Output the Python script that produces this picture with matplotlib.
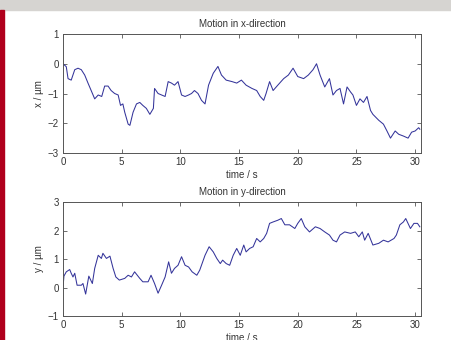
import matplotlib.pyplot as plt
from matplotlib.patches import Rectangle

# motion in x
tx = [0, 0.14, 0.28, 0.43, 0.7, 1.0, 1.28, 1.56, 1.85, 2.13, 2.4, 2.7, 3.0, 3.3,
      3.55, 3.84, 4.1, 4.4, 4.7, 4.9, 5.1, 5.26, 5.55, 5.7, 5.97, 6.26, 6.54, 6.8,
      7.1, 7.4, 7.7, 7.8, 8.1, 8.4, 8.7, 8.96, 9.24, 9.5, 9.8, 10.1, 10.4, 10.7,
      10.95, 11.2, 11.5, 11.8, 12.1, 12.4, 12.8, 13.2, 13.5, 13.9, 14.4, 14.8,
      15.2, 15.6, 16.1, 16.5, 16.8, 17.1, 17.3, 17.6, 17.9, 18.3, 18.8, 19.2,
      19.6, 20.0, 20.5, 20.9, 21.3, 21.6, 21.9, 22.3, 22.7, 23.0, 23.3, 23.6,
      23.9, 24.2, 24.5, 24.7, 25.0, 25.3, 25.6, 25.9, 26.2, 26.4, 26.9, 27.3,
      27.6, 27.9, 28.3, 28.6, 29.0, 29.4, 29.7, 30.0, 30.3, 30.4]
x = [0.0, -0.05, -0.1, -0.5, -0.55, -0.2, -0.15, -0.2, -0.38, -0.65, -0.9, -1.18,
     -1.05, -1.1, -0.75, -0.75, -0.9, -1.0, -1.05, -1.4, -1.35, -1.63, -2.03,
     -2.07, -1.63, -1.35, -1.3, -1.4, -1.5, -1.7, -1.5, -0.83, -1.0, -1.05, -1.1,
     -0.6, -0.65, -0.72, -0.6, -1.05, -1.1, -1.05, -1.0, -0.9, -1.0, -1.23,
     -1.35, -0.72, -0.32, -0.09, -0.38, -0.55, -0.6, -0.65, -0.55, -0.72, -0.83,
     -0.9, -1.1, -1.23, -1.0, -0.6, -0.9, -0.72, -0.5, -0.38, -0.15, -0.43, -0.5,
     -0.38, -0.2, 0.0, -0.38, -0.78, -0.5, -1.05, -0.9, -0.83, -1.35, -0.78,
     -0.95, -1.05, -1.4, -1.18, -1.3, -1.1, -1.57, -1.7, -1.9, -2.03, -2.26,
     -2.5, -2.26, -2.37, -2.43, -2.5, -2.3, -2.26, -2.15, -2.2]

# motion in y
ty = [0, 0.08, 0.28, 0.57, 0.7, 0.85, 1.0, 1.2, 1.56, 1.7, 1.93, 2.2, 2.5, 2.7,
      3.0, 3.27, 3.4, 3.7, 4.0, 4.27, 4.5, 4.8, 5.26, 5.55, 5.83, 6.1, 6.54, 6.8,
      7.25, 7.5, 7.8, 8.1, 8.4, 8.7, 9.0, 9.24, 9.5, 9.8, 10.1, 10.4, 10.7, 11.0,
      11.4, 11.65, 12.1, 12.45, 12.8, 13.1, 13.4, 13.6, 13.9, 14.2, 14.5, 14.8,
      15.1, 15.4, 15.6, 15.9, 16.2, 16.5, 16.8, 17.1, 17.35, 17.6, 17.9, 18.3,
      18.6, 18.9, 19.3, 19.75, 20.0, 20.3, 20.6, 21.0, 21.5, 21.9, 22.3, 22.7,
      23.0, 23.3, 23.6, 24.0, 24.5, 24.9, 25.2, 25.5, 25.7, 26.0, 26.4, 26.9,
      27.3, 27.7, 28.2, 28.4, 28.7, 29.0, 29.2, 29.6, 29.9, 30.2, 30.4]
y = [0.0, 0.4, 0.55, 0.63, 0.5, 0.37, 0.5, 0.08, 0.08, 0.14, -0.23, 0.4, 0.14,
     0.67, 1.13, 1.02, 1.2, 1.02, 1.1, 0.67, 0.37, 0.26, 0.32, 0.43, 0.37, 0.55,
     0.32, 0.2, 0.2, 0.43, 0.14, -0.2, 0.08, 0.37, 0.9, 0.5, 0.67, 0.78, 1.08,
     0.78, 0.72, 0.55, 0.43, 0.61, 1.13, 1.43, 1.25, 1.02, 0.84, 0.96, 0.84,
     0.78, 1.13, 1.37, 1.13, 1.49, 1.25, 1.37, 1.43, 1.72, 1.6, 1.72, 1.9, 2.25,
     2.3, 2.36, 2.42, 2.2, 2.2, 2.07, 2.25, 2.42, 2.13, 1.95, 2.13, 2.07, 1.95,
     1.84, 1.66, 1.6, 1.84, 1.95, 1.9, 1.95, 1.78, 1.95, 1.66, 1.9, 1.49, 1.55,
     1.66, 1.6, 1.72, 1.84, 2.2, 2.3, 2.42, 2.07, 2.25, 2.25, 2.13]

plt.rcParams['font.family'] = ['Liberation Sans', 'DejaVu Sans']
plt.rcParams['font.size'] = 7

fig = plt.figure(figsize=(4.51, 3.40), dpi=100)
# slide background bits around the figure
fig.patches.append(Rectangle((0, 1 - 10 / 340), 1, 10 / 340, transform=fig.transFigure,
                             color='#d6d4d1', zorder=-1))
fig.patches.append(Rectangle((0, 0), 4 / 451, 1 - 10 / 340, transform=fig.transFigure,
                             color='#b0001c', zorder=-1))

ax1 = fig.add_axes([63 / 451, 1 - 153 / 340, 358 / 451, 119 / 340])
ax2 = fig.add_axes([63 / 451, 1 - 316 / 340, 358 / 451, 114 / 340])

panels = [(ax1, tx, x, 'Motion in x-direction', 'x / µm', (-3, 1)),
          (ax2, ty, y, 'Motion in y-direction', 'y / µm', (-1, 3))]
for ax, t, v, title, ylab, lim in panels:
    ax.plot(t, v, color='#34349a', lw=0.75)
    ax.set_xlim(0, 30.5)
    ax.set_ylim(*lim)
    ax.set_xticks([0, 5, 10, 15, 20, 25, 30])
    ax.set_yticks(range(lim[0], lim[1] + 1))
    ax.set_title(title, fontsize=7, color='#333333', pad=5)
    ax.set_xlabel('time / s', fontsize=7, color='#333333', labelpad=2)
    ax.set_ylabel(ylab, fontsize=7, color='#333333', labelpad=3)
    ax.tick_params(direction='in', length=3, width=0.6, top=True, right=True,
                   labelsize=7, colors='#555555', labelcolor='#333333', pad=3)
    for s in ax.spines.values():
        s.set_color('#555555')
        s.set_linewidth(0.7)

fig.savefig('out.png', dpi=100)
